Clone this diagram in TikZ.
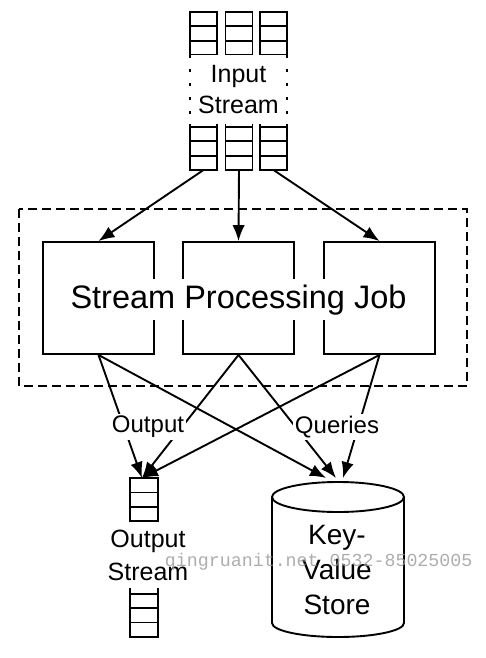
\documentclass[tikz,border=0pt]{standalone}
\usepackage{fontspec}
\setmainfont{Liberation Sans}
\newfontfamily\wmfont{Liberation Mono}
\usetikzlibrary{arrows.meta}
\begin{document}
\begin{tikzpicture}[x=1pt,y=-1pt,line width=1.9pt,
  arr/.style={-{Latex[length=16pt,width=12.5pt]}},
  jobbox/.style={draw,minimum width=111pt,minimum height=112pt,inner sep=0pt},
  lbl/.style={fill=white,inner sep=2pt,font=\fontsize{24}{28}\selectfont},
  streamlbl/.style={fill=white,inner sep=0pt,align=center,font=\fontsize{25}{31.5}\selectfont},
  edgedash/.style={dash pattern=on 3pt off 11pt},
  bigdash/.style={dash pattern=on 9pt off 5pt}]
\useasboundingbox (0,0) rectangle (485,658);

% input stream columns
\foreach \x in {190,225.5,260}{
  \draw (\x,12) rectangle (\x+27,170);
  \foreach \i in {1,...,10}{\draw (\x,12+\i*14.36) -- ++(27,0);}
}
\node[streamlbl,minimum width=101pt,minimum height=69pt] (inlbl) at (238.5,89.5) {Input\\Stream};
\draw[edgedash] (190,55) -- (190,124);
\draw[edgedash] (287,55) -- (287,124);
\coordinate (c1b) at (203.5,170);
\coordinate (c2b) at (239,170);
\coordinate (c3b) at (273.5,170);

% job boxes
\draw[bigdash] (19,209) rectangle (467,386);
\node[jobbox] (box1) at (98.5,298) {};
\node[jobbox] (box2) at (238.5,298) {};
\node[jobbox] (box3) at (379.5,298) {};
\node[fill=white,inner sep=5pt,anchor=base,font=\fontsize{32.5}{38}\selectfont] (jobtxt) at (238.5,308) {Stream Processing Job};

\draw[arr] (c1b) -- (box1.north);
\draw[arr] (c2b) -- (box2.north);
\draw[arr] (c3b) -- (box3.north);

% outputs
\coordinate (outT) at (142,478);
\coordinate (kv1) at (326,478);
\coordinate (kv2) at (336,478);
\coordinate (kv3) at (343,478);
\draw[arr] (box1.south) -- (outT);
\draw[arr] (box2.south) -- (outT);
\draw[arr] (box3.south) -- (outT);
\draw[arr] (box1.south) -- (kv1);
\draw[arr] (box2.south) -- (kv2);
\draw[arr] (box3.south) -- (kv3);
\node[lbl] (outlbl) at (148,427) {Output};
\node[lbl] (qlbl) at (337,427) {Queries};

% output stream
\draw (130,478) rectangle (158,637);
\foreach \i in {1,...,10}{\draw (130,478+\i*14.45) -- ++(28,0);}
\node[streamlbl,minimum height=66pt,font=\fontsize{25}{33}\selectfont] (outstream) at (148,555) {Output\\Stream};

% key-value store
\draw (338,497) ellipse [x radius=66pt,y radius=15pt];
\draw (272,497) -- (272,623) arc[start angle=180,end angle=360,x radius=66pt,y radius=14pt] -- (404,497);
\node[align=center,inner sep=0pt,font=\fontsize{28}{35}\selectfont] (kvtxt) at (337,570) {Key-\\Value\\Store};

% watermark
\node[anchor=base west,inner sep=0pt,text=black!40,opacity=0.8,font=\wmfont\fontsize{18.3}{20}\selectfont] (wm) at (164,566) {qingruanit.net 0532-85025005};
\end{tikzpicture}
\end{document}
